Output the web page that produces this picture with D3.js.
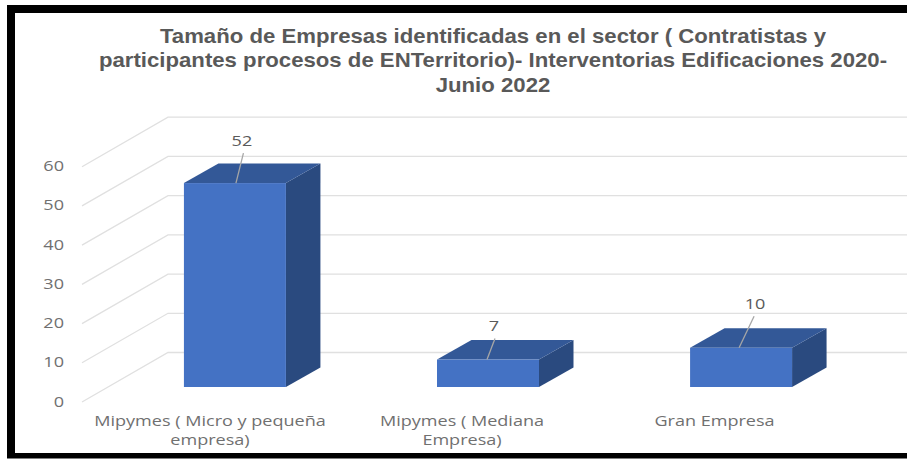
<!DOCTYPE html>
<html><head><meta charset="utf-8">
<script src="https://cdn.jsdelivr.net/npm/d3@7/dist/d3.min.js"></script>
<style>html,body{margin:0;padding:0;background:#fff}svg{display:block}</style>
</head><body><svg id="c" width="907" height="459"></svg>
<script>
const categories = ["Mipymes ( Micro y pequeña empresa)", "Mipymes ( Mediana Empresa)", "Gran Empresa"];
const categoryLines = [["Mipymes ( Micro y pequeña","empresa)"],["Mipymes ( Mediana","Empresa)"],["Gran Empresa"]];
const values = [52, 7, 10];
const ticks = [0,10,20,30,40,50,60];
const titleLines = ["Tamaño de Empresas identificadas en el sector ( Contratistas y","participantes procesos de ENTerritorio)- Interventorias Edificaciones 2020-","Junio 2022"];

const svg = d3.select("#c");
const y = d3.scaleLinear().domain([0,60]).range([402,166.7]);
const x = d3.scaleBand().domain(categories).range([108,868]).paddingInner(0.597).paddingOuter(0.3);
const depth = {dx:86, dy:-49.5};
const barDepth = {dx:34.5, dy:-19.5};
const baseOffset = 15;
const barW = x.bandwidth();
const barX = d => x(d);
const leaders = [[52,7.5,-30],[50,8,-21],[49,15,-31.5]];
const labelOffsets = [[58,-37],[57,-29],[65,-39]];
const stretch = 1.29;
const stretched = (px,py,s) => `translate(${px},${py}) scale(${s},1)`;

// frame (open on the right)
const frame = svg.append("g").attr("fill","#000");
frame.append("rect").attr("x",7).attr("y",5).attr("width",900).attr("height",8);
frame.append("rect").attr("x",7).attr("y",5).attr("width",8).attr("height",453);
frame.append("rect").attr("x",7).attr("y",453).attr("width",900).attr("height",5.5);

// title
svg.append("g").selectAll("text").data(titleLines).join("text")
  .attr("transform",(d,i)=>stretched(493,42.5+i*24.5,1.12)).attr("text-anchor","middle")
  .attr("font-family","Liberation Sans").attr("font-weight","bold").attr("font-size",19.8)
  .attr("fill","#595959").text(d=>d);

// grid
const grid = svg.append("g").attr("fill","none").attr("stroke","#e0e0e0").attr("stroke-width",1.3);
grid.selectAll("path").data(ticks).join("path")
  .attr("d",t=>d3.line()([[82,y(t)],[82+depth.dx,y(t)+depth.dy],[907,y(t)+depth.dy]]));

// y axis labels
svg.append("g").selectAll("text").data(ticks).join("text")
  .attr("transform",t=>stretched(64,y(t)+4.5,stretch)).attr("text-anchor","end")
  .attr("font-family","Open Sans").attr("font-size",14).attr("fill","#707070").text(t=>t);

// bars
const bars = svg.append("g").selectAll("g").data(categories).join("g");
const barTop = (d,i)=>y(values[i])-baseOffset;
const bot = y(0)-baseOffset;
bars.append("path").attr("fill","#2a4a7f").attr("d",(d,i)=>{
  const r=barX(d)+barW,t=barTop(d,i);
  return d3.line()([[r,t],[r+barDepth.dx,t+barDepth.dy],[r+barDepth.dx,bot+barDepth.dy],[r,bot]])+"Z";
});
bars.append("path").attr("fill","#335897").attr("d",(d,i)=>{
  const l=barX(d),r=l+barW,t=barTop(d,i);
  return d3.line()([[l,t],[r,t],[r+barDepth.dx,t+barDepth.dy],[l+barDepth.dx,t+barDepth.dy]])+"Z";
});
bars.append("rect").attr("fill","#4472c4").attr("x",d=>barX(d)).attr("width",barW)
  .attr("y",(d,i)=>barTop(d,i)).attr("height",(d,i)=>bot-barTop(d,i));

// leader lines and data labels
bars.append("path").attr("stroke","#a6a6a6").attr("stroke-width",1.3).attr("fill","none").attr("d",(d,i)=>{
  const a=barX(d)+leaders[i][0],t=barTop(d,i);
  return d3.line()([[a,t],[a+leaders[i][1],t+leaders[i][2]]]);
});
bars.append("text").attr("transform",(d,i)=>stretched(barX(d)+labelOffsets[i][0],barTop(d,i)+labelOffsets[i][1],stretch))
  .attr("text-anchor","middle").attr("font-family","Open Sans").attr("font-size",14)
  .attr("fill","#5a5a5a").text((d,i)=>values[i]);

// category labels
const catX=[210,462,714.5];
svg.append("g").selectAll("g").data(categoryLines).join("g")
  .attr("transform",(d,i)=>stretched(catX[i],426,stretch))
  .selectAll("text").data(d=>d).join("text")
  .attr("y",(d,i)=>i*19).attr("text-anchor","middle")
  .attr("font-family","Open Sans").attr("font-size",14).attr("fill","#707070").text(d=>d);
</script></body></html>
